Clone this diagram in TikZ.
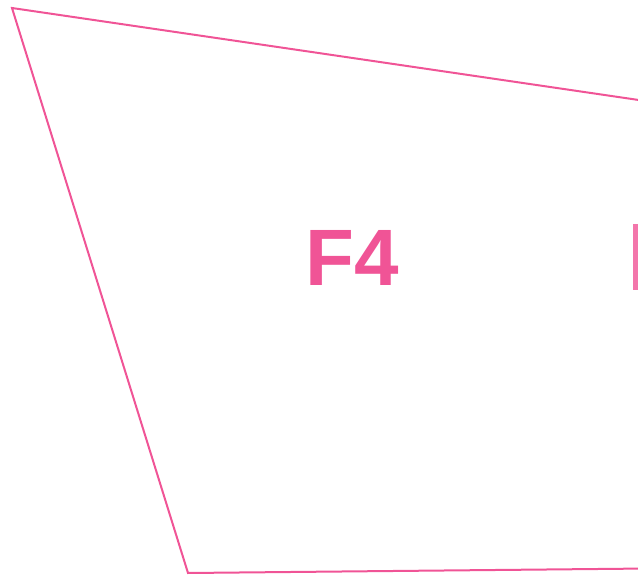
\documentclass[tikz,border=0pt]{standalone}
\usepackage{fontspec}
\setmainfont{Liberation Sans}
\definecolor{facepink}{RGB}{240,84,150}
\begin{document}
\begin{tikzpicture}[x=1pt,y=-1pt,
  edge/.style={draw=facepink,line width=2pt,line join=miter},
  facelabel/.style={text=facepink,font=\bfseries\fontsize{80}{80}\selectfont,inner sep=0pt}]
\useasboundingbox (0,0) rectangle (638,575);
\clip (0,0) rectangle (638,575);
\coordinate (tl) at (12,8);
\coordinate (tr) at (700,109);
\coordinate (bl) at (188,573);
\coordinate (br) at (700,568);
\draw[edge] (tr) -- (tl) -- (bl) -- (br);
\node[facelabel] (f4) at (352,258) {F4};
\fill[facepink!80] (633,224) rectangle (640,290);
\end{tikzpicture}
\end{document}
